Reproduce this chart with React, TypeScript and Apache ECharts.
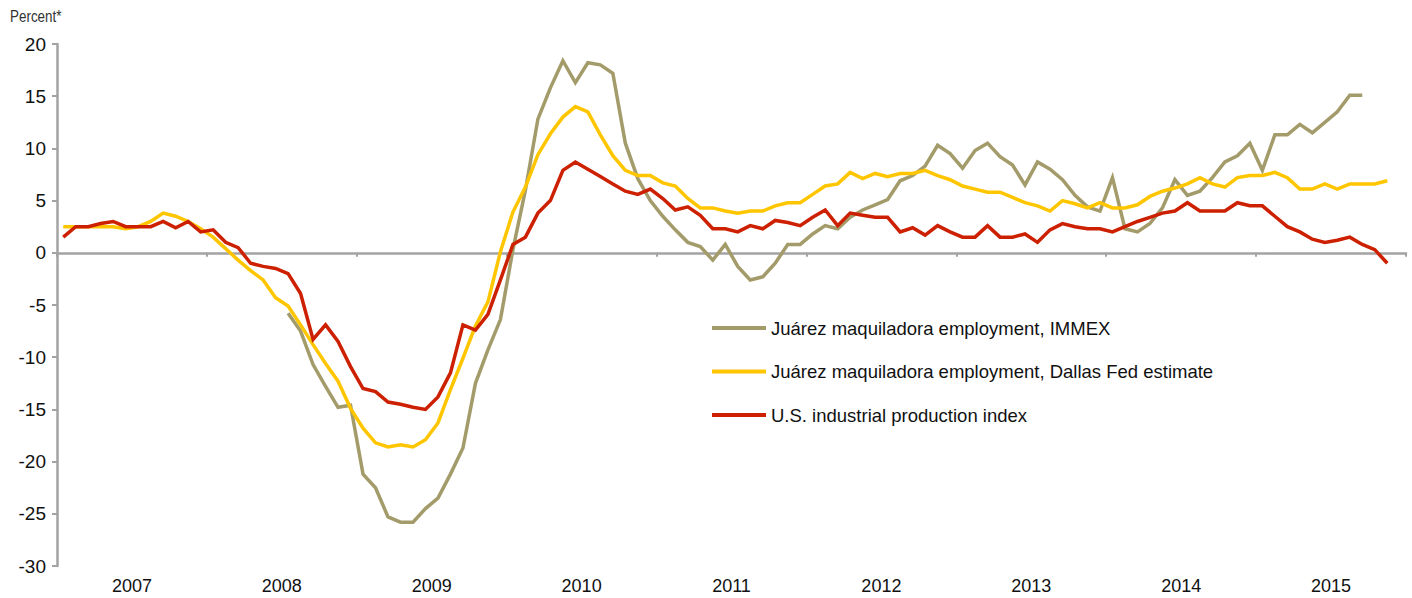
import React, { useEffect, useRef } from "react";
import * as echarts from "echarts";

const years = ["2007", "2008", "2009", "2010", "2011", "2012", "2013", "2014", "2015"];
const monthNames = ["01", "02", "03", "04", "05", "06", "07", "08", "09", "10", "11", "12"];
const months: string[] = [];
years.forEach((y) => monthNames.forEach((m) => months.push(`${y}-${m}`)));

const yTicks = { min: -30, max: 20, interval: 5 };

const immexName = "Juárez maquiladora employment, IMMEX";
const dallasName = "Juárez maquiladora employment, Dallas Fed estimate";
const ipName = "U.S. industrial production index";

// Jan 2007 onward, monthly, % change year over year
const immex: (number | null)[] = [
  null, null, null, null, null, null, null, null, null, null, null, null,
  null, null, null, null, null, null,
  -5.8, -7.5, -10.7, -12.8, -14.8, -14.6,
  -21.2, -22.5, -25.3, -25.8, -25.8, -24.5, -23.5, -21.2, -18.7, -12.5, -9.3, -6.4,
  0.3, 6.0, 12.8, 15.8, 18.4, 16.3, 18.2, 18.0, 17.2, 10.5, 7.1, 5.0,
  3.5, 2.2, 1.0, 0.6, -0.7, 0.8, -1.3, -2.6, -2.3, -1.0, 0.8, 0.8,
  1.8, 2.6, 2.3, 3.4, 4.1, 4.6, 5.1, 6.9, 7.4, 8.3, 10.3, 9.5,
  8.1, 9.8, 10.5, 9.2, 8.4, 6.5, 8.7, 8.0, 7.0, 5.5, 4.4, 4.0,
  7.2, 2.3, 2.0, 2.8, 4.3, 7.0, 5.5, 5.9, 7.2, 8.7, 9.3, 10.5,
  7.9, 11.3, 11.3, 12.3, 11.5, 12.5, 13.5, 15.1, 15.1,
];

const dallas: number[] = [
  2.5, 2.5, 2.5, 2.5, 2.5, 2.3, 2.5, 3.0, 3.8, 3.5, 3.0, 2.3,
  1.5, 0.4, -0.7, -1.7, -2.6, -4.3, -5.1, -6.9, -8.8, -10.6, -12.3, -14.9,
  -16.8, -18.2, -18.6, -18.4, -18.6, -17.9, -16.3, -13.1, -10.1, -7.0, -4.7, 0.1,
  3.9, 6.3, 9.4, 11.4, 13.0, 14.0, 13.5, 11.3, 9.3, 7.9, 7.4, 7.4,
  6.7, 6.4, 5.2, 4.3, 4.3, 4.0, 3.8, 4.0, 4.0, 4.5, 4.8, 4.8,
  5.6, 6.4, 6.6, 7.7, 7.1, 7.6, 7.3, 7.6, 7.6, 7.9, 7.4, 7.0,
  6.4, 6.1, 5.8, 5.8, 5.3, 4.8, 4.5, 4.0, 5.0, 4.7, 4.3, 4.8,
  4.3, 4.3, 4.6, 5.4, 5.9, 6.2, 6.6, 7.2, 6.6, 6.3, 7.2, 7.4,
  7.4, 7.7, 7.2, 6.1, 6.1, 6.6, 6.1, 6.6, 6.6, 6.6, 6.9,
];

const usIP: number[] = [
  1.5, 2.5, 2.5, 2.8, 3.0, 2.5, 2.5, 2.5, 3.0, 2.4, 3.0, 2.0,
  2.2, 1.0, 0.5, -1.0, -1.3, -1.5, -2.0, -3.9, -8.3, -6.9, -8.5, -10.9,
  -13.0, -13.3, -14.3, -14.5, -14.8, -15.0, -13.8, -11.5, -6.9, -7.4, -5.9, -2.6,
  0.8, 1.5, 3.8, 5.0, 7.9, 8.7, 8.0, 7.3, 6.6, 5.9, 5.6, 6.1,
  5.2, 4.1, 4.4, 3.6, 2.3, 2.3, 2.0, 2.6, 2.3, 3.1, 2.9, 2.6,
  3.4, 4.1, 2.6, 3.8, 3.6, 3.4, 3.4, 2.0, 2.4, 1.7, 2.6, 2.0,
  1.5, 1.5, 2.6, 1.5, 1.5, 1.8, 1.0, 2.2, 2.8, 2.5, 2.3, 2.3,
  2.0, 2.5, 3.0, 3.4, 3.8, 4.0, 4.8, 4.0, 4.0, 4.0, 4.8, 4.5,
  4.5, 3.5, 2.5, 2.0, 1.3, 1.0, 1.2, 1.5, 0.8, 0.3, -1.0,
];

const colors = { immex: "#a39b6a", dallas: "#ffc600", ip: "#cc2000", axis: "#a3a3a3" };
const font = "'Liberation Sans', Arial, Helvetica, sans-serif";

export default function App() {
  const ref = useRef<HTMLDivElement>(null);
  useEffect(() => {
    if (!ref.current) return;
    const chart = echarts.init(ref.current, null, { renderer: "svg" });
    const lineSeries = (name: string, data: (number | null)[], color: string) => ({
      name,
      type: "line",
      data,
      xAxisIndex: 0,
      yAxisIndex: 0,
      symbol: "none",
      connectNulls: false,
      lineStyle: { color, width: 3.5, join: "miter" },
      itemStyle: { color },
    });
    chart.setOption({
      animation: false,
      backgroundColor: "#ffffff",
      textStyle: { fontFamily: font },
      grid: { left: 57, right: 6, top: 44, bottom: 32, containLabel: false },
      graphic: [
        {
          type: "text",
          x: 10,
          y: 9,
          scaleX: 0.84,
          style: {
            text: "Percent*",
            fontSize: 16,
            fontFamily: font,
            fill: "#333333",
            textVerticalAlign: "top",
          },
        },
      ],
      legend: {
        orient: "vertical",
        left: 712,
        top: 317,
        padding: 0,
        icon: "rect",
        itemWidth: 54,
        itemHeight: 4,
        itemGap: 21.5,
        textStyle: { fontSize: 18.5, color: "#111111", fontFamily: font, lineHeight: 22 },
        data: [immexName, dallasName, ipName],
      },
      xAxis: [
        {
          type: "category",
          data: months,
          boundaryGap: true,
          position: "bottom",
          axisLine: { onZero: true, lineStyle: { color: colors.axis, width: 2.5 } },
          axisTick: { show: true, interval: 11, length: 4, lineStyle: { color: colors.axis, width: 2 } },
          axisLabel: { show: false },
          splitLine: { show: false },
        },
        {
          type: "category",
          data: years,
          boundaryGap: true,
          position: "bottom",
          axisLine: { show: false, onZero: false },
          axisTick: { show: false },
          axisLabel: { show: true, fontSize: 18, color: "#111111", margin: 11, fontFamily: font },
          splitLine: { show: false },
        },
      ],
      yAxis: {
        type: "value",
        min: yTicks.min,
        max: yTicks.max,
        interval: yTicks.interval,
        axisLine: { show: true, lineStyle: { color: colors.axis, width: 2.5 } },
        axisTick: { show: true, length: 5, lineStyle: { color: colors.axis, width: 2 } },
        axisLabel: { fontSize: 19, color: "#111111", margin: 11, fontFamily: font },
        splitLine: { show: false },
      },
      series: [
        lineSeries(immexName, immex, colors.immex),
        lineSeries(dallasName, dallas, colors.dallas),
        lineSeries(ipName, usIP, colors.ip),
      ],
    });
    return () => chart.dispose();
  }, []);
  return (
    <div
      ref={ref}
      style={{ position: "fixed", left: 0, top: 0, width: 1412, height: 598, background: "#fff" }}
    />
  );
}
